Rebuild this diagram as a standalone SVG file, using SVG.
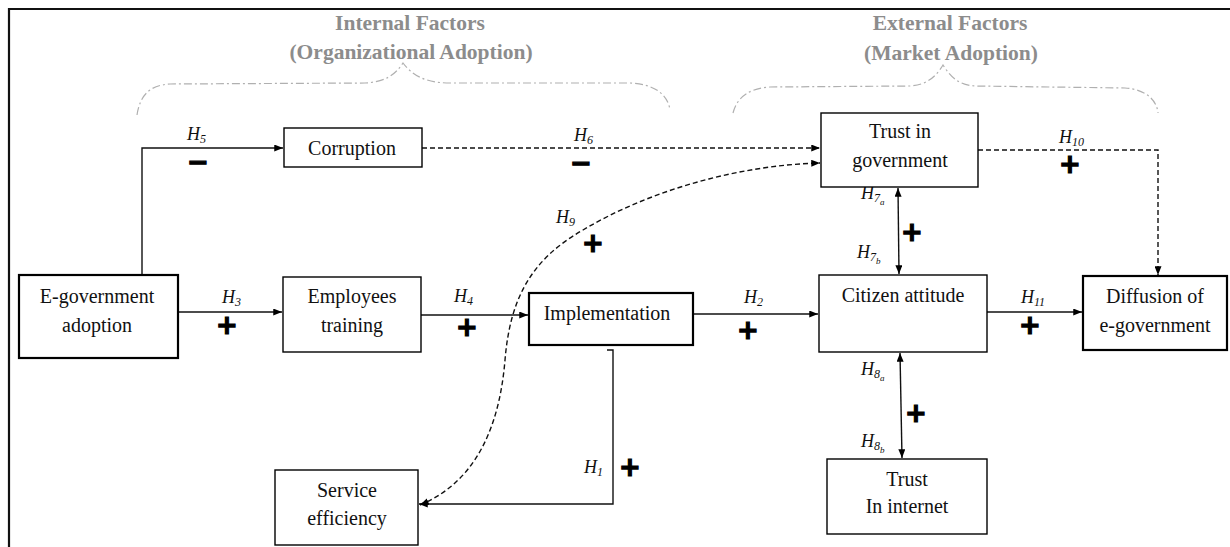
<svg xmlns="http://www.w3.org/2000/svg" width="1230" height="547" viewBox="0 0 1230 547">
<defs>
<marker id="arr" viewBox="0 0 10 8" refX="10" refY="4" markerWidth="9" markerHeight="7" markerUnits="userSpaceOnUse" orient="auto-start-reverse">
<path d="M0,0 L10,4 L0,8 Z" fill="#000"/>
</marker>
<style>
.box{fill:#fff;stroke:#000;stroke-width:1.4}
.thick{stroke-width:2.2}
.lbl{font-family:"Liberation Serif",serif;font-size:20px;fill:#111;text-anchor:middle}
.ttl{font-family:"Liberation Serif",serif;font-size:21.5px;font-weight:bold;fill:#8c8c8c;text-anchor:middle}
.h{font-family:"Liberation Serif",serif;font-size:18px;font-style:italic;fill:#111}
.sub{font-size:12px}
.sub2{font-size:9px}
.sgn{font-family:"DejaVu Sans",sans-serif;font-size:26px;font-weight:bold;fill:#000;stroke:#000;stroke-width:1.2;text-anchor:middle}
.ln{fill:none;stroke:#111;stroke-width:1.4}
.dash{stroke-dasharray:5 3}
.brace{fill:none;stroke:#b0b0b0;stroke-width:1.2;stroke-dasharray:8 3 2 3}
</style>
</defs>
<rect width="1230" height="547" fill="#fff"/>
<path d="M9,547 L9,9 L1230,9" fill="none" stroke="#111" stroke-width="2.2"/>

<g id="group-titles">
<text class="ttl" x="410" y="30">Internal Factors</text>
<text class="ttl" x="411" y="59">(Organizational Adoption)</text>
<text class="ttl" x="950" y="30">External Factors</text>
<text class="ttl" x="951" y="60">(Market Adoption)</text>
<path class="brace" d="M137,115 C140,95 150,85 170,84 L365,83 C385,82 395,75 403,63 C412,75 425,83 450,83 L630,83 C655,84 668,95 670,110"/>
<path class="brace" d="M733,113 C737,97 750,88 770,87 L910,86 C928,85 937,75 943,65 C950,76 958,85 975,86 L1125,88 C1145,89 1157,100 1158,113"/>
</g>

<g id="connectors">
<path class="ln" d="M142,275 L142,148 L283,148" marker-end="url(#arr)"/>
<path class="ln dash" d="M422,148 L820,148" marker-end="url(#arr)"/>
<path class="ln dash" d="M978,150 L1158,150 L1158,275" marker-end="url(#arr)"/>
<path class="ln" d="M178,312 L282,312" marker-end="url(#arr)"/>
<path class="ln" d="M421,315 L528,315" marker-end="url(#arr)"/>
<path class="ln" d="M693,314 L818,314" marker-end="url(#arr)"/>
<path class="ln" d="M987,312 L1082,312" marker-end="url(#arr)"/>
<path class="ln" d="M607,350 L613,350 L613,504 L419,504" marker-end="url(#arr)"/>
<path class="ln dash" d="M420,505 C480,480 500,420 505,360 C510,300 530,260 583,230 C650,190 740,165 820,163" marker-start="url(#arr)" marker-end="url(#arr)"/>
<path class="ln" d="M898,188 L899,274" marker-start="url(#arr)" marker-end="url(#arr)"/>
<path class="ln" d="M900,353 L902,458" marker-start="url(#arr)" marker-end="url(#arr)"/>

<text class="h" x="187" y="140">H<tspan class="sub" dy="3">5</tspan></text>
<text class="sgn" x="198" y="171">−</text>
<text class="h" x="574" y="141">H<tspan class="sub" dy="3">6</tspan></text>
<text class="sgn" x="581" y="172">−</text>
<text class="h" x="556" y="223">H<tspan class="sub" dy="3">9</tspan></text>
<text class="sgn" x="593" y="252">+</text>
<text class="h" x="1059" y="143">H<tspan class="sub" dy="3">10</tspan></text>
<text class="sgn" x="1070" y="173">+</text>
<text class="h" x="861" y="199">H<tspan class="sub" dy="3">7</tspan><tspan class="sub2" dy="3">a</tspan></text>
<text class="h" x="857" y="258">H<tspan class="sub" dy="3">7</tspan><tspan class="sub2" dy="3">b</tspan></text>
<text class="sgn" x="912" y="241">+</text>
<text class="h" x="222" y="303">H<tspan class="sub" dy="3">3</tspan></text>
<text class="sgn" x="227" y="334">+</text>
<text class="h" x="454" y="302">H<tspan class="sub" dy="3">4</tspan></text>
<text class="sgn" x="467" y="336">+</text>
<text class="h" x="744" y="303">H<tspan class="sub" dy="3">2</tspan></text>
<text class="sgn" x="748" y="339">+</text>
<text class="h" x="1021" y="303">H<tspan class="sub" dy="3">11</tspan></text>
<text class="sgn" x="1030" y="334">+</text>
<text class="h" x="861" y="375">H<tspan class="sub" dy="3">8</tspan><tspan class="sub2" dy="3">a</tspan></text>
<text class="h" x="861" y="447">H<tspan class="sub" dy="3">8</tspan><tspan class="sub2" dy="3">b</tspan></text>
<text class="sgn" x="916" y="422">+</text>
<text class="h" x="584" y="473">H<tspan class="sub" dy="3">1</tspan></text>
<text class="sgn" x="630" y="476">+</text>
</g>

<g id="egov-adoption">
<rect class="box thick" x="19" y="275" width="159" height="83"/>
<text class="lbl" x="97" y="303">E-government</text>
<text class="lbl" x="97" y="332">adoption</text>
</g>
<g id="corruption">
<rect class="box" x="284" y="128" width="138" height="39"/>
<text class="lbl" x="352" y="155">Corruption</text>
</g>
<g id="employees-training">
<rect class="box" x="283" y="277" width="138" height="75"/>
<text class="lbl" x="352" y="303">Employees</text>
<text class="lbl" x="352" y="332">training</text>
</g>
<g id="implementation">
<rect class="box thick" x="529" y="293" width="164" height="52"/>
<text class="lbl" x="607" y="320">Implementation</text>
</g>
<g id="service-efficiency">
<rect class="box" x="275" y="470" width="143" height="75"/>
<text class="lbl" x="347" y="497">Service</text>
<text class="lbl" x="347" y="525">efficiency</text>
</g>
<g id="trust-government">
<rect class="box" x="821" y="113" width="157" height="74"/>
<text class="lbl" x="900" y="138">Trust in</text>
<text class="lbl" x="900" y="167">government</text>
</g>
<g id="citizen-attitude">
<rect class="box" x="819" y="275" width="168" height="77"/>
<text class="lbl" x="903" y="302">Citizen attitude</text>
</g>
<g id="diffusion">
<rect class="box thick" x="1083" y="276" width="144" height="74"/>
<text class="lbl" x="1155" y="303">Diffusion of</text>
<text class="lbl" x="1155" y="332">e-government</text>
</g>
<g id="trust-internet">
<rect class="box" x="827" y="459" width="160" height="75"/>
<text class="lbl" x="907" y="486">Trust</text>
<text class="lbl" x="907" y="513">In internet</text>
</g>
</svg>
